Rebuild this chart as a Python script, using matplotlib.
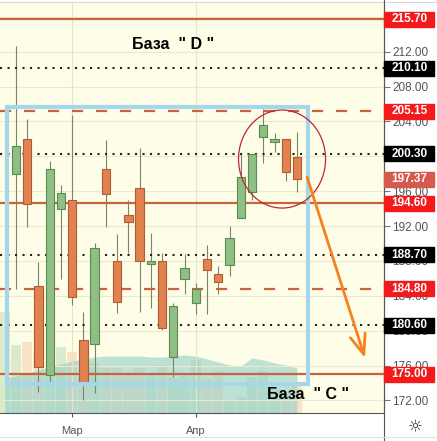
import matplotlib.pyplot as plt
from matplotlib.patches import Rectangle, Ellipse
from matplotlib.lines import Line2D

# candles (index 0 = first full candle)
opens = [197.96, 201.98, 185.1, 174.9, 193.95, 195.0, 178.9, 178.5, 198.5, 188.0, 193.26, 196.36, 187.6,
         188.0, 177.0, 185.9, 183.2, 188.2, 186.5, 187.5, 192.9, 195.9, 202.2, 201.6, 202.0, 199.9]
highs = [212.6, 204.3, 187.9, 199.45, 196.7, 204.7, 182.1, 190.05, 201.9, 191.1, 195.0, 200.9, 191.2,
         188.9, 183.2, 188.8, 185.5, 189.8, 187.4, 192.0, 200.4, 200.3, 205.4, 202.7, 202.0, 202.8]
lows = [184.8, 191.9, 173.0, 174.1, 185.9, 183.0, 172.0, 172.85, 191.9, 182.0, 188.9, 182.1, 182.6,
        180.1, 174.7, 184.2, 181.9, 181.9, 184.2, 186.3, 192.9, 195.0, 199.2, 200.5, 197.2, 195.9]
closes = [201.17, 194.52, 175.8, 198.5, 195.8, 183.9, 174.1, 189.5, 195.7, 183.3, 192.46, 188.0, 188.0,
          180.3, 182.8, 187.2, 184.8, 187.0, 185.6, 190.6, 197.6, 200.3, 203.6, 202.0, 198.2, 197.37]

# volume pane (starts one bar earlier, that candle is cut off at the left edge)
vol_pos = list(range(-1, 26))
volumes = [101, 68, 71, 60, 45, 66, 61, 40, 50, 45, 45, 40, 45, 40, 48, 35, 40, 53, 35, 42, 13, 16, 36,
           42, 25, 20, 31]
vol_avg = [35, 37, 40, 43, 46, 49, 52, 54, 56, 57, 57, 57, 57, 56, 56, 57, 58, 57, 54, 51, 48, 47, 55,
           53, 50, 48, 45]

# horizontal levels
levels = [215.70, 210.10, 205.15, 200.30, 194.60, 188.70, 184.80, 180.60, 175.00]
level_kind = ['zone', 'mid', 'half', 'mid', 'zone', 'mid', 'half', 'mid', 'zone']
last_price = 197.37

price_ticks = [172, 176, 180, 184, 188, 192, 196, 200, 204, 208, 212]
month_pos = [5, 16]
month_labels = ['Мар', 'Апр']

BG = '#fdfde8'
UP, UP_EDGE = '#8fbf85', '#5b8a50'
DOWN, DOWN_EDGE = '#e2824f', '#b05a36'
LEVEL_RED = '#c9633f'

fig = plt.figure(figsize=(4.37, 4.41), dpi=100)
fig.patch.set_facecolor('white')
vax = fig.add_axes([0, 28 / 441, 384 / 437, 411 / 441])
ax = fig.add_axes([0, 28 / 441, 384 / 437, 411 / 441], sharex=vax)
ax.set_zorder(2)
ax.patch.set_visible(False)
vax.set_facecolor(BG)

xlim = (-1.42, 32.74)
ax.set_xlim(*xlim)
ax.set_ylim(170.56, 217.69)

# volume
vol_up = [True] + [c >= o for o, c in zip(opens, closes)]
vcol = ['#9cc98f' if u else '#f0b48a' for u in vol_up]
vax.bar(vol_pos, volumes, width=0.92, color=vcol, alpha=0.35, linewidth=0)
vax.fill_between(vol_pos, vol_avg, color='#94cfcb', alpha=0.6, linewidth=0)
vax.set_ylim(0, 411)
vax.set_yticks([])
vax.tick_params(bottom=False, labelbottom=False)
for s in vax.spines.values():
    s.set_visible(False)

# grid
for p in price_ticks + [216]:
    ax.axhline(p, color='#ebebcc', lw=0.8, zorder=0)
for m in month_pos:
    ax.axvline(m, color='#e4e4c6', lw=0.8, zorder=0)

# candles
xs = list(range(len(opens)))
for x, o, h, l, c in zip(xs, opens, highs, lows, closes):
    up = c >= o
    ax.vlines(x, l, h, color='#7d8566', lw=0.8, zorder=3)
    ax.bar(x, max(abs(c - o), 0.2), bottom=min(o, c), width=0.74,
           color=UP if up else DOWN, edgecolor=UP_EDGE if up else DOWN_EDGE, lw=0.8, zorder=4)

# levels
for p, k in zip(levels, level_kind):
    if k == 'zone':
        ax.axhline(p, color=LEVEL_RED, lw=1.6, zorder=3)
    elif k == 'half':
        ax.axhline(p, color=LEVEL_RED, lw=1.6, ls=(0, (5, 5.8)), zorder=3)
    else:
        ax.axhline(p, color='#222222', lw=1.5, ls=(0, (1, 2.6)), zorder=3)

# blue box, circle, arrow
ax.add_patch(Rectangle((-0.8, 173.88), 26.78, 31.82, fill=False, ec='#a5d6ea', lw=3, zorder=5))
ax.add_patch(Ellipse((23.67, 199.68), 7.74, 11.24, fill=False, ec='#c0272d', lw=0.9, zorder=6))
ax.annotate('', xy=(31.05, 176.86), xytext=(25.9, 197.6),
            arrowprops=dict(arrowstyle='->,head_length=0.9,head_width=0.35', color='#f5821f',
                            lw=2, mutation_scale=16, shrinkA=0, shrinkB=0), zorder=6)

ax.text(14.0, 212.87, 'База  " D "', fontsize=11.5, fontweight='bold', family='Liberation Sans',
        ha='center', va='center', zorder=7)
ax.text(25.98, 172.73, 'База  " C "', fontsize=11.5, fontweight='bold', family='Liberation Sans',
        ha='center', va='center', zorder=7)

# price axis
ax.yaxis.tick_right()
ax.set_yticks(price_ticks)
ax.set_yticklabels([f'{p:.2f}' for p in price_ticks])
ax.tick_params(axis='y', length=4, width=0.8, color='#777777', labelcolor='#555555',
               labelsize=8.5, pad=2)
for lab in ax.get_yticklabels():
    lab.set_family('Liberation Sans')

# month axis
ax.set_xticks(month_pos)
ax.set_xticklabels(month_labels)
ax.tick_params(axis='x', length=3, width=0.8, color='#555555', labelcolor='#555555',
               labelsize=8, pad=6)
for lab in ax.get_xticklabels():
    lab.set_family('Liberation Sans')

for s in ['top', 'left']:
    ax.spines[s].set_visible(False)
ax.spines['bottom'].set_color('#555555')
ax.spines['right'].set_color('#555555')

# boxed price labels
ytr = ax.get_yaxis_transform()
labels = [(p, '#f21a1a' if k != 'mid' else '#000000') for p, k in zip(levels, level_kind)]
labels.append((last_price, '#d65a4c'))
for p, col in labels:
    ax.add_patch(Rectangle((1.0, p - 0.85), 0.13, 1.7, transform=ytr, color=col,
                           clip_on=False, zorder=8))
    ax.text(1.066, p, f'{p:.2f}', transform=ytr, color='white', fontsize=8.5, fontweight='bold',
            family='Liberation Sans', ha='center', va='center', clip_on=False, zorder=9)

# frame bits outside the plot
fig.add_artist(Line2D([384 / 437, 384 / 437], [0, 1], color='#555555', lw=0.8))
fig.add_artist(Line2D([0, 1], [439.5 / 441, 439.5 / 441], color='#d8d8d8', lw=0.8))
fig.add_artist(Line2D([0, 1], [4 / 441, 4 / 441], color='#e0e0e0', lw=0.8))
fig.text(415 / 437, 14 / 441, '☼', fontsize=12, ha='center', va='center', color='#333333')

fig.savefig('out.png', dpi=100, facecolor='white')
